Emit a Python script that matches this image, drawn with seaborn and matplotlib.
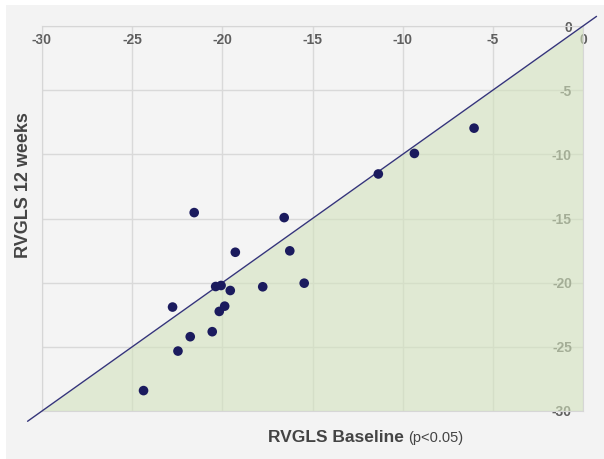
import matplotlib
matplotlib.use("Agg")
import matplotlib.pyplot as plt
import seaborn as sns
import pandas as pd
from matplotlib.patches import Rectangle

# Data
baseline = [-21.56, -16.57, -19.28, -16.26, -20.37, -20.07, -19.56, -17.76, -15.46,
            -22.76, -19.87, -20.17, -20.56, -21.78, -22.46, -24.37, -11.35, -9.35, -6.04]
week12 = [-14.54, -14.93, -17.63, -17.52, -20.30, -20.22, -20.61, -20.32, -20.04,
          -21.90, -21.83, -22.24, -23.82, -24.21, -25.33, -28.41, -11.53, -9.93, -7.96]
ticks = [-30, -25, -20, -15, -10, -5, 0]

df = pd.DataFrame({"baseline": baseline, "week12": week12})

sns.set_style("white")
plt.rcParams["font.family"] = ["Liberation Sans", "DejaVu Sans"]

fig = plt.figure(figsize=(6.04, 4.59), dpi=100)
fig.patch.set_facecolor("white")
fig.patches.append(Rectangle((6 / 604, 0), 1 - 6 / 604, 1 - 5 / 459,
                             transform=fig.transFigure, facecolor="#f3f3f3",
                             edgecolor="none", zorder=-10))

ax = fig.add_axes([42 / 604, 1 - 411 / 459, 541 / 604, 385 / 459])
ax.set_facecolor("#f4f4f4")
ax.set_xlim(-30, 0)
ax.set_ylim(-30, 0)
ax.set_xticks(ticks)
ax.set_yticks(ticks)
ax.grid(True, color="#d9d9d9", lw=1)
ax.set_axisbelow(True)

ax.fill_between([-30, 0], [-30, 0], [-30, -30], color="#d3e3bd", alpha=0.6,
                lw=0, zorder=1.5)

ax.plot([-30.8, 0.75], [-30.8, 0.75], color="#35357a", lw=1, clip_on=False, zorder=3)

sns.scatterplot(data=df, x="baseline", y="week12", ax=ax, color="#1b1b5e",
                s=48, edgecolor="none", zorder=4, clip_on=False)

for s in ax.spines.values():
    s.set_color("#d6d6d6")
    s.set_linewidth(0.8)

ax.tick_params(axis="x", top=True, labeltop=True, bottom=False, labelbottom=False,
               length=0, pad=-15, labelsize=10, labelcolor="#5e5e5e")
ax.tick_params(axis="y", left=False, labelleft=False, right=True, labelright=True,
               length=0, pad=-8, labelsize=10, labelcolor="#5e5e5e")
ax.set_xticklabels([str(t) for t in ticks], fontweight="bold")
ax.set_yticklabels([str(t) for t in ticks], fontweight="bold", ha="right")

ax.set_xlabel("")
ax.set_ylabel("RVGLS 12 weeks", fontsize=13, fontweight="bold", color="#444444")
ax.yaxis.set_label_coords(-0.0186, 0.587)

t1 = ax.text((268 - 42) / 541, -(442 - 411) / 385, "RVGLS Baseline",
             transform=ax.transAxes, fontsize=12.5, fontweight="bold",
             color="#444444", ha="left", va="baseline")
ax.annotate("(p<0.05)", xy=(1, 0), xycoords=t1, xytext=(3, 0),
            textcoords="offset points", fontsize=10.5, color="#444444",
            ha="left", va="bottom")

fig.savefig("out.png", dpi=100)
